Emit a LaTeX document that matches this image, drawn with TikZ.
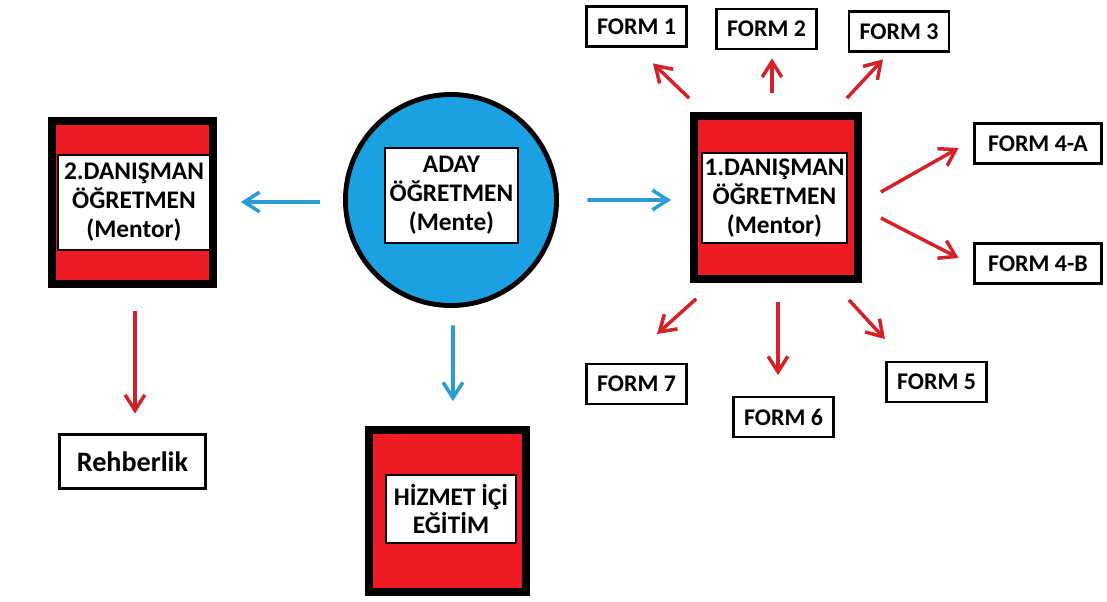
\documentclass[tikz,border=0pt]{standalone}
\usepackage{fontspec}
\setmainfont{Carlito}
\usepackage{xcolor}
\usetikzlibrary{arrows.meta, calc, positioning}
\definecolor{paintred}{HTML}{ED1C24}
\definecolor{arrred}{HTML}{D2232A}
\definecolor{paintblue}{HTML}{1BA1E2}
\definecolor{arrblue}{HTML}{2A9BD5}
\tikzset{
  %outer frame of the teacher boxes
  frame/.style={
    draw
    , fill=paintred
    , line width=5.5pt
    , anchor=center
    , inner sep=0pt
  },
  %white label inside a frame
  label box/.style={
    draw
    , fill=white
    , line width=1.2pt
    , align=center
    , inner sep=0pt
    , font=\fontsize{18}{20.6}\selectfont\bfseries
  },
}

\begin{document}
\begin{tikzpicture}[x=0.025cm, y=-0.025cm]
  \tikzstyle{form}=[draw, fill=white, line width=2pt, inner sep=0pt,
                    minimum width=2.5cm, minimum height=1cm,
                    font=\fontsize{17}{19}\selectfont\bfseries]
  %\tikzstyle{form}=[draw
  %                  , line width=2pt
  %                  , rounded corners
  %                  , font=\scriptsize]
  \tikzstyle{wide}=[form, minimum width=3.175cm]
  \tikzstyle{redarr}=[arrred, line width=2.5pt, -{Straight Barb[length=11pt,width=14pt]}]
  \tikzstyle{bluearr}=[arrblue, line width=2.5pt, -{Straight Barb[length=11pt,width=14pt]}]

  \useasboundingbox (0,0) rectangle (1107,601);

  % teacher boxes
  \node [frame, minimum width=4.025cm, minimum height=4.075cm] (dan2) at (132.5,202.5) {};
  \node [label box, minimum width=3.8cm, minimum height=2.375cm] (dan2-t) at (134,202.5)
        {2.DANIŞMAN\\ÖĞRETMEN\\(Mentor)};

  \node [frame, minimum width=4.1cm, minimum height=4.075cm] (dan1) at (776,197.5) {};
  \node [label box, minimum width=3.625cm, minimum height=2.25cm] (dan1-t) at (774.5,198)
        {1.DANIŞMAN\\ÖĞRETMEN\\(Mentor)};

  \node [circle, draw, fill=paintblue, line width=3.5pt, minimum size=5.275cm] (aday) at (451,200) {};
  \node [label box, line width=2pt, minimum width=3.325cm, minimum height=2.375cm] (aday-t) at (451.5,195.5)
        {ADAY\\ÖĞRETMEN\\(Mente)};

  \node [frame, minimum width=3.925cm, minimum height=4.05cm] (hiz) at (447.5,511) {};
  \node [label box, line width=2pt, minimum width=3.25cm, minimum height=1.7cm] (hiz-t) at (451,509)
        {HİZMET İÇİ\\EĞİTİM};

  \node [form, minimum width=3.65cm, minimum height=1.35cm,
         font=\fontsize{20}{22}\selectfont\bfseries] (rehb) at (132.5,461.5) {Rehberlik};

  % forms
  \node [form] (f1) at (636.5,26.5) {FORM 1};
  \node [form] (f2) at (766.5,29) {FORM 2};
  \node [form] (f3) at (899,31.5) {FORM 3};
  \node [wide] (f4a) at (1038,143.5) {FORM 4-A};
  \node [wide] (f4b) at (1038,263.5) {FORM 4-B};
  \node [form] (f5) at (936.5,382) {FORM 5};
  \node [form] (f6) at (783.5,417) {FORM 6};
  \node [form] (f7) at (636.5,384) {FORM 7};

  % blue arrows
  \draw [bluearr] ([shift={(-23.5,2)}]aday.west) -- ([shift={(24,-0.5)}]dan2.east);
  \draw [bluearr] ([shift={(28.5,0)}]aday.east) -- ([shift={(-19,2.5)}]dan1.west);
  \draw [bluearr] ([shift={(2,17.5)}]aday.south) -- ([shift={(5.5,-25)}]hiz.north);

  % red arrows
  \draw [redarr] ([shift={(2.5,23)}]dan2.south) -- ([shift={(2.5,-19.5)}]rehb.north);

  \draw [redarr] ([shift={(-1,-14)}]dan1.north west) -- ([shift={(16.5,15.5)}]f1.south);
  \draw [redarr] ([shift={(-4,-19)}]dan1.north) -- ([shift={(5.5,8)}]f2.south);
  \draw [redarr] ([shift={(-15,-14)}]dan1.north east) -- ([shift={(-16,6.5)}]f3.south);
  \draw [redarr] ([shift={(19,-5.5)}]dan1.east) -- ([shift={(-14.5,4.5)}]f4a.west);
  \draw [redarr] ([shift={(19,20.5)}]dan1.east) -- ([shift={(-14.5,-5.5)}]f4b.west);
  \draw [redarr] ([shift={(-13,17)}]dan1.south east) -- ([shift={(-51.5,-21.5)}]f5.north);
  \draw [redarr] ([shift={(2,19)}]dan1.south) -- ([shift={(-5.5,-20.5)}]f6.north);
  \draw [redarr] ([shift={(6,16)}]dan1.south west) -- ([shift={(20.5,-28.5)}]f7.north);

\end{tikzpicture}
\end{document}
